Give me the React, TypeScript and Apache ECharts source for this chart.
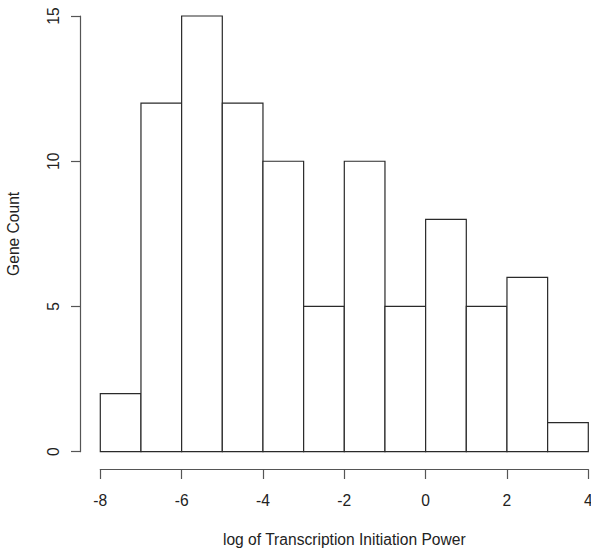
import React, { useEffect, useRef } from "react";
import * as echarts from "echarts";

const binStarts = [-8, -7, -6, -5, -4, -3, -2, -1, 0, 1, 2, 3];
const binEnds = [-7, -6, -5, -4, -3, -2, -1, 0, 1, 2, 3, 4];
const counts = [2, 12, 15, 12, 10, 5, 10, 5, 8, 5, 6, 1];
const xTitle = "log of Transcription Initiation Power";
const yTitle = "Gene Count";

const FONT = "'Liberation Sans', Arial, Helvetica, sans-serif";
const TEXT = "#222";
const AXIS = "#555";

export default function App() {
  const ref = useRef<HTMLDivElement>(null);
  useEffect(() => {
    if (!ref.current) return;
    const chart = echarts.init(ref.current, undefined, { renderer: "svg" });
    const data = binStarts.map((s, i) => [s, binEnds[i], counts[i]]);
    chart.setOption({
      animation: false,
      backgroundColor: "#ffffff",
      grid: {
        left: 100.3,
        right: 2.7,
        top: 16,
        bottom: 97.3,
        containLabel: false,
        outerBoundsMode: "none",
      },
      xAxis: {
        type: "value",
        min: -8,
        max: 4,
        interval: 2,
        offset: 17.6,
        axisLine: { show: true, onZero: false, lineStyle: { color: AXIS, width: 1.2 } },
        axisTick: { show: true, length: 9.7, lineStyle: { color: AXIS, width: 1.2 } },
        axisLabel: { margin: 23, color: TEXT, fontSize: 15.6, fontFamily: FONT },
        splitLine: { show: false },
        name: xTitle,
        nameLocation: "middle",
        nameGap: 62,
        nameTextStyle: { color: TEXT, fontSize: 15.6, fontFamily: FONT },
      },
      yAxis: {
        type: "value",
        min: 0,
        max: 15,
        interval: 5,
        offset: 20.3,
        axisLine: { show: true, onZero: false, lineStyle: { color: AXIS, width: 1.2 } },
        axisTick: { show: true, length: 9, lineStyle: { color: AXIS, width: 1.2 } },
        axisLabel: { rotate: 90, margin: 19, color: TEXT, fontSize: 15.6, fontFamily: FONT },
        splitLine: { show: false },
        name: yTitle,
        nameLocation: "middle",
        nameRotate: 90,
        nameGap: 59,
        nameTextStyle: { color: TEXT, fontSize: 15.6, fontFamily: FONT },
      },
      series: [
        {
          type: "custom",
          data,
          encode: { x: [0, 1], y: 2 },
          renderItem: (params: any, api: any) => {
            const x0 = api.value(0);
            const x1 = api.value(1);
            const c = api.value(2);
            const p0 = api.coord([x0, c]);
            const p1 = api.coord([x1, 0]);
            return {
              type: "rect",
              shape: { x: p0[0], y: p0[1], width: p1[0] - p0[0], height: p1[1] - p0[1] },
              style: { fill: "#ffffff", stroke: "#2a2a2a", lineWidth: 1.2 },
            };
          },
        },
      ],
    });
    return () => chart.dispose();
  }, []);
  return (
    <div
      ref={ref}
      style={{ position: "fixed", left: 0, top: 0, width: 591, height: 549, background: "#fff" }}
    />
  );
}
